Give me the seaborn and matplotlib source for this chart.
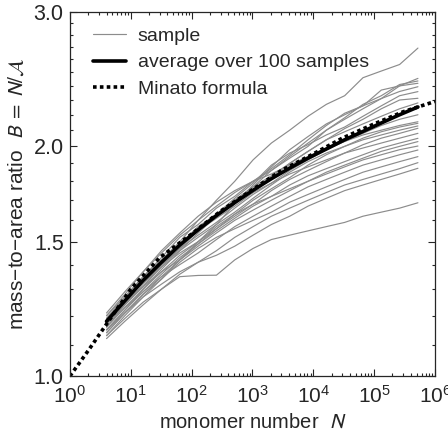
import numpy as np
import pandas as pd
import matplotlib
matplotlib.use("Agg")
import matplotlib.pyplot as plt
from matplotlib.ticker import FixedLocator, FixedFormatter, LogLocator, NullFormatter
from matplotlib.lines import Line2D
import seaborn as sns

# ---------------- data ----------------
N_samples = [2 ** k for k in range(2, 20)]  # 4 ... 524288

sample_01 = [1.20, 1.27, 1.35, 1.42, 1.50, 1.60, 1.70, 1.80, 1.92, 2.02, 2.10, 2.19, 2.27, 2.33, 2.46, 2.51, 2.56, 2.69]
sample_02 = [1.17, 1.24, 1.31, 1.40, 1.47, 1.55, 1.62, 1.70, 1.77, 1.86, 1.94, 2.02, 2.10, 2.17, 2.24, 2.31, 2.40, 2.455]
sample_03 = [1.19, 1.27, 1.35, 1.43, 1.52, 1.58, 1.66, 1.72, 1.80, 1.86, 1.93, 2.00, 2.10, 2.18, 2.27, 2.33, 2.41, 2.436]
sample_04 = [1.15, 1.22, 1.30, 1.37, 1.44, 1.50, 1.58, 1.68, 1.78, 1.88, 1.98, 2.06, 2.14, 2.20, 2.26, 2.37, 2.40, 2.419]
sample_05 = [1.21, 1.29, 1.37, 1.45, 1.53, 1.60, 1.67, 1.74, 1.80, 1.87, 1.95, 2.04, 2.13, 2.21, 2.26, 2.31, 2.36, 2.394]
sample_06 = [1.18, 1.25, 1.33, 1.40, 1.49, 1.57, 1.63, 1.71, 1.79, 1.89, 1.96, 2.01, 2.07, 2.12, 2.19, 2.26, 2.33, 2.359]
sample_07 = [1.16, 1.23, 1.30, 1.38, 1.46, 1.54, 1.62, 1.70, 1.77, 1.83, 1.90, 1.97, 2.04, 2.11, 2.17, 2.24, 2.30, 2.312]
sample_08 = [1.18, 1.26, 1.34, 1.41, 1.48, 1.55, 1.61, 1.67, 1.74, 1.82, 1.90, 1.97, 2.04, 2.09, 2.14, 2.19, 2.24, 2.28]
sample_09 = [1.17, 1.24, 1.31, 1.39, 1.47, 1.53, 1.59, 1.66, 1.73, 1.79, 1.86, 1.92, 1.98, 2.03, 2.08, 2.13, 2.17, 2.20]
sample_10 = [1.20, 1.28, 1.37, 1.46, 1.54, 1.62, 1.69, 1.75, 1.80, 1.84, 1.89, 1.94, 1.99, 2.03, 2.07, 2.10, 2.13, 2.154]
sample_11 = [1.14, 1.21, 1.28, 1.35, 1.42, 1.49, 1.56, 1.63, 1.70, 1.76, 1.82, 1.89, 1.95, 2.00, 2.05, 2.09, 2.12, 2.144]
sample_12 = [1.16, 1.24, 1.32, 1.40, 1.46, 1.52, 1.58, 1.64, 1.71, 1.78, 1.85, 1.91, 1.96, 2.00, 2.04, 2.07, 2.10, 2.127]
sample_13 = [1.19, 1.26, 1.33, 1.39, 1.45, 1.50, 1.56, 1.62, 1.68, 1.75, 1.81, 1.86, 1.91, 1.96, 2.01, 2.05, 2.08, 2.112]
sample_14 = [1.17, 1.25, 1.33, 1.41, 1.49, 1.56, 1.63, 1.69, 1.74, 1.79, 1.84, 1.88, 1.92, 1.96, 1.99, 2.02, 2.05, 2.080]
sample_15 = [1.15, 1.22, 1.29, 1.36, 1.43, 1.49, 1.55, 1.61, 1.67, 1.72, 1.78, 1.83, 1.87, 1.91, 1.95, 1.99, 2.02, 2.049]
sample_16 = [1.13, 1.20, 1.27, 1.34, 1.42, 1.50, 1.57, 1.63, 1.68, 1.72, 1.76, 1.80, 1.85, 1.89, 1.93, 1.97, 2.00, 2.029]
sample_17 = [1.18, 1.25, 1.31, 1.37, 1.42, 1.48, 1.54, 1.60, 1.65, 1.70, 1.75, 1.80, 1.84, 1.88, 1.92, 1.95, 1.98, 2.002]
sample_18 = [1.16, 1.23, 1.29, 1.35, 1.40, 1.45, 1.51, 1.57, 1.62, 1.67, 1.72, 1.77, 1.81, 1.85, 1.89, 1.92, 1.95, 1.978]
sample_19 = [1.14, 1.21, 1.28, 1.34, 1.41, 1.47, 1.52, 1.56, 1.60, 1.64, 1.69, 1.73, 1.77, 1.81, 1.85, 1.88, 1.91, 1.939]
sample_20 = [1.12, 1.18, 1.24, 1.30, 1.36, 1.41, 1.46, 1.52, 1.57, 1.62, 1.66, 1.70, 1.74, 1.78, 1.81, 1.84, 1.87, 1.904]
sample_21 = [1.15, 1.21, 1.27, 1.32, 1.37, 1.41, 1.44, 1.48, 1.53, 1.58, 1.62, 1.67, 1.71, 1.75, 1.78, 1.81, 1.84, 1.872]
sample_22 = [1.13, 1.19, 1.25, 1.30, 1.35, 1.355, 1.356, 1.42, 1.47, 1.51, 1.53, 1.55, 1.57, 1.59, 1.62, 1.64, 1.66, 1.687]

samples = [sample_01, sample_02, sample_03, sample_04, sample_05, sample_06, sample_07,
           sample_08, sample_09, sample_10, sample_11, sample_12, sample_13, sample_14,
           sample_15, sample_16, sample_17, sample_18, sample_19, sample_20, sample_21,
           sample_22]

average_B = [1.18, 1.255, 1.335, 1.41, 1.485, 1.555, 1.623, 1.688, 1.752, 1.814, 1.873,
             1.930, 1.984, 2.040, 2.092, 2.146, 2.200, 2.252]

minato_N = [1, 2, 4, 10, 30, 100, 300, 1e3, 3e3, 1e4, 3e4, 1e5, 3e5, 1e6]
minato_B = [1.00, 1.08, 1.17, 1.30, 1.43, 1.535, 1.645, 1.755, 1.86, 1.955, 2.05, 2.14, 2.22, 2.29]

y_ticks = [1.0, 1.5, 2.0, 3.0]
y_tick_labels = ["1.0", "1.5", "2.0", "3.0"]

# ---------------- tables ----------------
df_samples = pd.DataFrame({
    "N": np.tile(N_samples, len(samples)),
    "B": np.concatenate(samples),
    "sample": np.repeat(np.arange(len(samples)), len(N_samples)),
})
df_avg = pd.DataFrame({"N": N_samples, "B": average_B})
df_min = pd.DataFrame({"N": minato_N, "B": minato_B})

# ---------------- style ----------------
sns.set_style("ticks")
plt.rcParams["font.family"] = ["Liberation Sans", "DejaVu Sans"]
plt.rcParams["mathtext.fontset"] = "stixsans"
plt.rcParams["font.size"] = 14

fig = plt.figure(figsize=(4.48, 4.41), dpi=100)
ax = fig.add_axes([0.156, 0.147, 0.815, 0.826])
ax.set_xscale("log")
ax.set_yscale("log")

gray = "#8c8c8c"
sns.lineplot(data=df_samples, x="N", y="B", units="sample", estimator=None,
             color=gray, lw=0.85, ax=ax, legend=False)
sns.lineplot(data=df_avg, x="N", y="B", color="black", lw=2.6, ax=ax, legend=False)
sns.lineplot(data=df_min, x="N", y="B", color="black", lw=2.6, ax=ax, legend=False,
             linestyle=(0, (1.0, 0.9)))

ax.set_xlim(1, 1e6)
ax.set_ylim(1.0, 3.0)

ax.yaxis.set_major_locator(FixedLocator(y_ticks))
ax.yaxis.set_major_formatter(FixedFormatter(y_tick_labels))
ax.yaxis.set_minor_locator(FixedLocator([v / 10 for v in range(11, 30) if v not in (15, 20)]))
ax.yaxis.set_minor_formatter(NullFormatter())
ax.xaxis.set_major_locator(LogLocator(base=10, numticks=10))
ax.xaxis.set_minor_locator(LogLocator(base=10, subs=np.arange(2, 10), numticks=20))
ax.xaxis.set_minor_formatter(NullFormatter())

ax.tick_params(which="both", direction="in", top=True, right=True, width=0.8)
ax.tick_params(axis="y", which="major", labelsize=15.5, length=5, pad=4.5)
ax.tick_params(axis="x", which="major", labelsize=15, length=5, pad=6.5)
ax.tick_params(which="minor", length=2.5)
for s in ax.spines.values():
    s.set_linewidth(0.9)

ax.set_xlabel("monomer number  $N$", fontsize=14.5, labelpad=4)
ax.set_ylabel("mass\u2212to\u2212area ratio  $B\\;=\\;N/\\mathcal{A}$", fontsize=15, labelpad=5)

handles = [
    Line2D([], [], color=gray, lw=0.85),
    Line2D([], [], color="black", lw=2.6),
    Line2D([], [], color="black", lw=2.6, linestyle=(0, (1.0, 0.9))),
]
labels = ["sample", "average over 100 samples", "Minato formula"]
ax.legend(handles, labels, loc="upper left", frameon=False, fontsize=14,
          handlelength=1.7, handletextpad=0.6, labelspacing=0.45,
          borderaxespad=0.3, bbox_to_anchor=(0.026, 0.995))

fig.savefig("out.png", dpi=100)
